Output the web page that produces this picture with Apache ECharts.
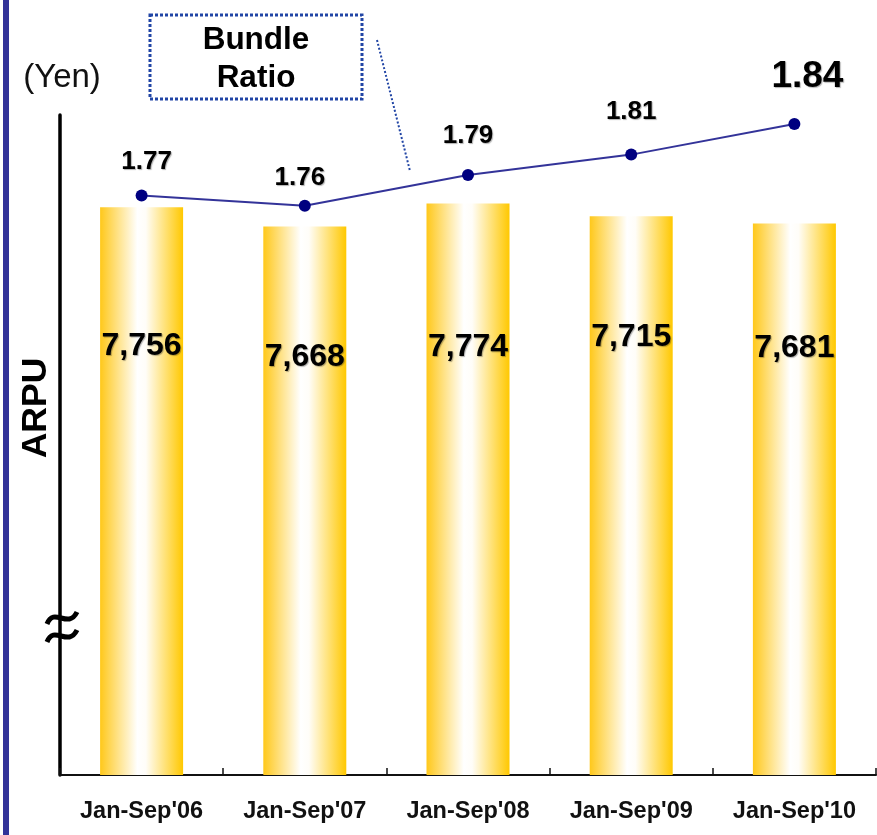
<!DOCTYPE html>
<html>
<head>
<meta charset="utf-8">
<script src="https://cdn.jsdelivr.net/npm/echarts@6/dist/echarts.min.js"></script>
<style>
html,body{margin:0;padding:0;background:#fff;}
#c{width:877px;height:835px;}
</style>
</head>
<body>
<div id="c"></div>
<script>
// ---- data ----
const categories = ["Jan-Sep'06", "Jan-Sep'07", "Jan-Sep'08", "Jan-Sep'09", "Jan-Sep'10"];
const arpu = [7756, 7668, 7774, 7715, 7681];
const bundleRatio = [1.77, 1.76, 1.79, 1.81, 1.84];

// ---- style / layout (not data) ----
const barLabelDy = [139, 131, 144, 121, 125];
const lineLabelOffsets = [[5, -34], [-5, -28], [0, -39], [0, -43], [13, -47]];
const lineLabelSizes = [26, 26, 26, 26, 37];
const FONT = '"Liberation Sans", Arial, sans-serif';
const shadow = {textShadowColor: 'rgba(0,0,0,0.3)', textShadowOffsetX: 1, textShadowOffsetY: 1, textShadowBlur: 1};

const chart = echarts.init(document.getElementById('c'), null, {renderer: 'canvas'});

const barGradient = new echarts.graphic.LinearGradient(0, 0, 1, 0, [
  {offset: 0, color: '#FFC81A'},
  {offset: 0.45, color: '#FFFFFF'},
  {offset: 0.55, color: '#FFFDF8'},
  {offset: 1, color: '#FFC800'}
]);

const option = {
  backgroundColor: '#ffffff',
  animation: false,
  grid: {left: 60, right: 1, top: 115, bottom: 60, containLabel: false},
  xAxis: {
    type: 'category',
    data: categories,
    boundaryGap: true,
    axisLine: {show: true, lineStyle: {color: '#111', width: 2}},
    axisTick: {show: true, inside: true, length: 7, lineStyle: {color: '#111', width: 1.5}},
    axisLabel: {color: '#111', fontFamily: FONT, fontWeight: 'bold', fontSize: 23.5, margin: 25},
    splitLine: {show: false}
  },
  yAxis: [
    {
      type: 'value', min: 5140, max: 8181.5,
      axisLine: {show: true, onZero: false, lineStyle: {color: '#000', width: 3.5}},
      axisTick: {show: false}, axisLabel: {show: false}, splitLine: {show: false}
    },
    {
      type: 'value', min: 1.2024, max: 1.8488, show: false,
      axisLine: {show: false}, axisTick: {show: false}, axisLabel: {show: false}, splitLine: {show: false}
    }
  ],
  series: [
    {
      type: 'bar',
      yAxisIndex: 0,
      barWidth: 83,
      itemStyle: {color: barGradient},
      data: arpu.map((v, i) => ({
        value: v,
        label: {
          show: true,
          position: ['50%', barLabelDy[i]],
          align: 'center', verticalAlign: 'middle',
          formatter: (p) => p.value.toLocaleString('en-US'),
          fontFamily: FONT, fontWeight: 'bold', fontSize: 32, color: '#000',
          ...shadow
        }
      }))
    },
    {
      type: 'line',
      yAxisIndex: 1,
      symbol: 'circle',
      symbolSize: 12,
      itemStyle: {color: '#000080'},
      lineStyle: {color: '#333399', width: 2},
      data: bundleRatio.map((v, i) => ({
        value: v,
        label: {
          show: true,
          position: 'inside',
          offset: lineLabelOffsets[i],
          formatter: (p) => p.value.toFixed(2),
          fontFamily: FONT, fontWeight: 'bold', fontSize: lineLabelSizes[i], color: '#000',
          ...shadow
        }
      })),
      z: 5
    }
  ],
  graphic: [
    {type: 'rect', shape: {x: 3, y: 0, width: 6, height: 835}, style: {fill: '#333399'}, silent: true},
    {type: 'text', x: 62, y: 78, style: {text: '(Yen)', font: '33px ' + FONT, fill: '#111', textAlign: 'center', textVerticalAlign: 'middle', align: 'center', verticalAlign: 'middle'}},
    {type: 'rect', shape: {x: 150, y: 15, width: 212, height: 84}, style: {fill: 'none', stroke: '#2145A5', lineWidth: 3, lineDash: [3, 2]}},
    {type: 'text', x: 256, y: 40, style: {text: 'Bundle', font: 'bold 31.5px ' + FONT, fill: '#000', textAlign: 'center', textVerticalAlign: 'middle', align: 'center', verticalAlign: 'middle'}},
    {type: 'text', x: 256, y: 78, style: {text: 'Ratio', font: 'bold 31.5px ' + FONT, fill: '#000', textAlign: 'center', textVerticalAlign: 'middle', align: 'center', verticalAlign: 'middle'}},
    {type: 'line', shape: {x1: 377, y1: 40, x2: 410, y2: 171}, style: {stroke: '#2145A5', lineWidth: 2, lineDash: [2, 2]}},
    {type: 'text', x: 36, y: 408, rotation: Math.PI / 2, style: {text: 'ARPU', font: 'bold 35.5px ' + FONT, fill: '#000', textAlign: 'center', textVerticalAlign: 'middle', align: 'center', verticalAlign: 'middle'}},
    {type: 'bezierCurve', shape: {x1: 47, y1: 624, cpx1: 54, cpy1: 606, cpx2: 68, cpy2: 630, x2: 77, y2: 612}, style: {stroke: '#000', lineWidth: 5, fill: 'none'}},
    {type: 'bezierCurve', shape: {x1: 47, y1: 642, cpx1: 54, cpy1: 624, cpx2: 68, cpy2: 648, x2: 77, y2: 630}, style: {stroke: '#000', lineWidth: 5, fill: 'none'}}
  ]
};
chart.setOption(option);
</script>
</body>
</html>
